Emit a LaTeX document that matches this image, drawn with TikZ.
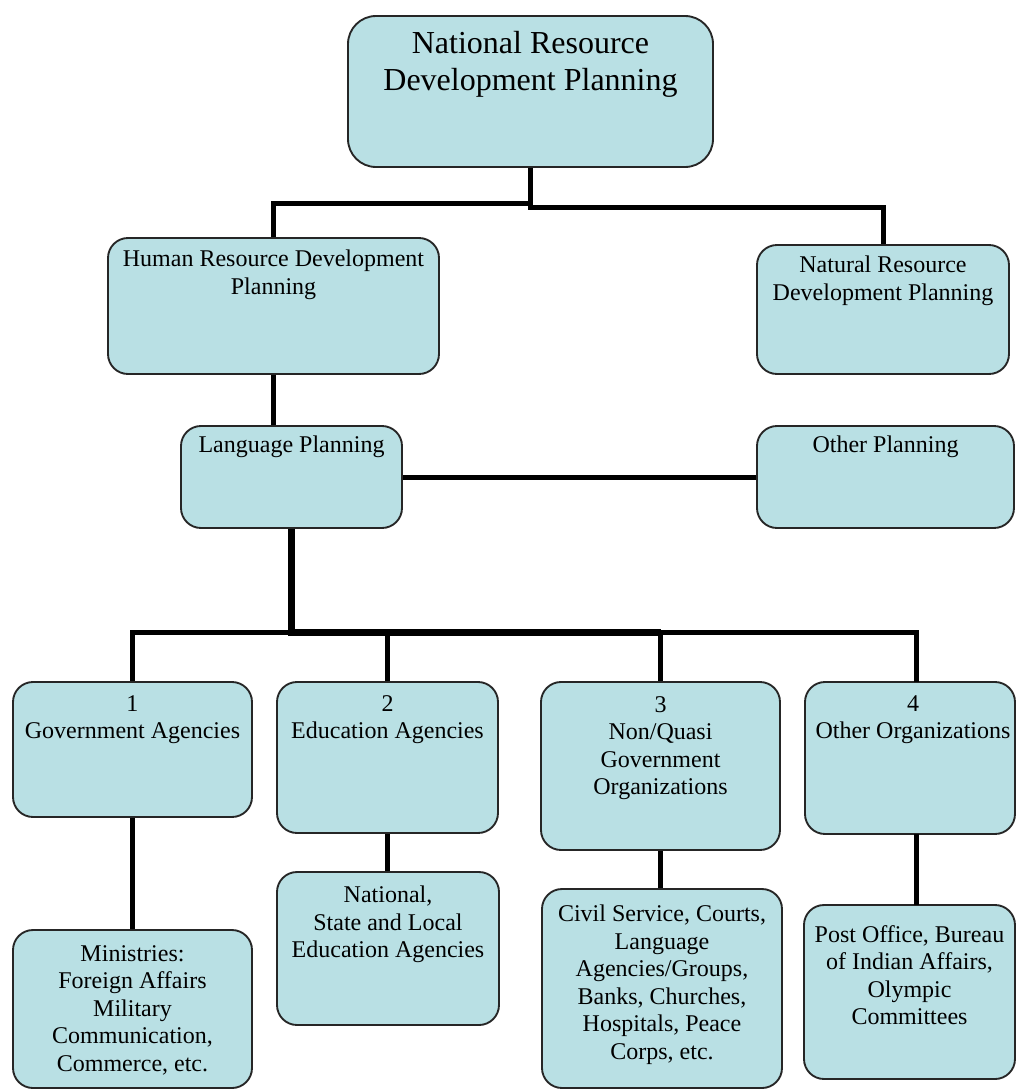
\documentclass[tikz,border=0pt]{standalone}
\usepackage{fontspec}
\setmainfont{Liberation Serif}
\usetikzlibrary{fit,calc}
\definecolor{boxfill}{RGB}{185,224,228}
\begin{document}
\begin{tikzpicture}[x=0.75pt,y=-0.75pt,
  box/.style={rectangle, draw=black!85, line width=1.4pt, fill=boxfill, rounded corners=15pt, inner sep=0pt},
  lbl/.style={anchor=north, align=center, inner sep=0pt, font=\fontsize{18}{20.6}\selectfont},
  biglbl/.style={lbl, font=\fontsize{24}{27.75}\selectfont},
  conn/.style={draw=black, line width=3.75pt},
  thickconn/.style={draw=black, line width=5.25pt}]
\useasboundingbox (0,0) rectangle (1016,1090);

% boxes
\node[box, rounded corners=21pt, fit={(348,16) (713,167)}] (top) {};
\node[box, fit={(108,238) (439,374)}] (hrd) {};
\node[box, fit={(757,245) (1009,374)}] (nat) {};
\node[box, fit={(181,426) (402,528)}] (lp) {};
\node[box, fit={(757,426) (1014,528)}] (oth) {};
\node[box, fit={(13,682) (252,817)}] (c1) {};
\node[box, fit={(277,682) (498,833)}] (c2) {};
\node[box, fit={(541,682) (780,850)}] (c3) {};
\node[box, fit={(805,682) (1015,834)}] (c4) {};
\node[box, fit={(13,930) (252,1088)}] (b1) {};
\node[box, fit={(277,872) (499,1025)}] (b2) {};
\node[box, fit={(542,889) (782,1088)}] (b3) {};
\node[box, fit={(804,905) (1015,1079)}] (b4) {};

% labels
\node[biglbl] (topT) at ($(top.north)+(0,16)$) {National Resource\\Development Planning};
\node[lbl] (hrdT) at ($(hrd.north)+(0,13)$) {Human Resource Development\\Planning};
\node[lbl] (natT) at ($(nat.north)+(0,12)$) {Natural Resource\\Development Planning};
\node[lbl] (lpT) at ($(lp.north)+(0,11)$) {Language Planning};
\node[lbl] (othT) at ($(oth.north)+(0,11)$) {Other Planning};
\node[lbl] (c1T) at ($(c1.north)+(0,14)$) {1\\Government Agencies};
\node[lbl] (c2T) at ($(c2.north)+(0,14)$) {2\\Education Agencies};
\node[lbl] (c3T) at ($(c3.north)+(0,15)$) {3\\Non/Quasi\\Government\\Organizations};
\node[lbl] (c4T) at ($(c4.north)+(3,14)$) {4\\Other Organizations};
\node[lbl] (b1T) at ($(b1.north)+(0,16)$) {Ministries:\\Foreign Affairs\\Military\\Communication,\\Commerce, etc.};
\node[lbl] (b2T) at ($(b2.north)+(0,15)$) {National,\\State and Local\\Education Agencies};
\node[lbl] (b3T) at ($(b3.north)+(0,17)$) {Civil Service, Courts,\\Language\\Agencies/Groups,\\Banks, Churches,\\Hospitals, Peace\\Corps, etc.};
\node[lbl] (b4T) at ($(b4.north)+(0,21)$) {Post Office, Bureau\\of Indian Affairs,\\Olympic\\Committees};

% connectors
\draw[conn] (top.south) -- ++(0,36) -| (hrd.north);
\draw[conn] (top.south) -- ++(0,40) -| (nat.north);
\draw[conn] (hrd.south) -- (hrd.south |- lp.north);
\draw[conn] (lp.east) -- (oth.west);
\draw[thickconn] (lp.south) -- ++(0,104) coordinate (bus) -- (bus -| c3.north);
\draw[conn] (bus) -| (c1.north);
\draw[conn] (bus) -| (c2.north);
\draw[conn] (bus) -| (c3.north);
\coordinate (c4top) at (916,682);
\draw[conn] (bus) -| (c4top);
\draw[conn] (c1.south) -- (b1.north);
\draw[conn] (c2.south) -- (c2.south |- b2.north);
\draw[conn] (c3.south) -- (c3.south |- b3.north);
\coordinate (c4bot) at (916,834);
\coordinate (b4top) at (916,905);
\draw[conn] (c4bot) -- (b4top);
\end{tikzpicture}
\end{document}
